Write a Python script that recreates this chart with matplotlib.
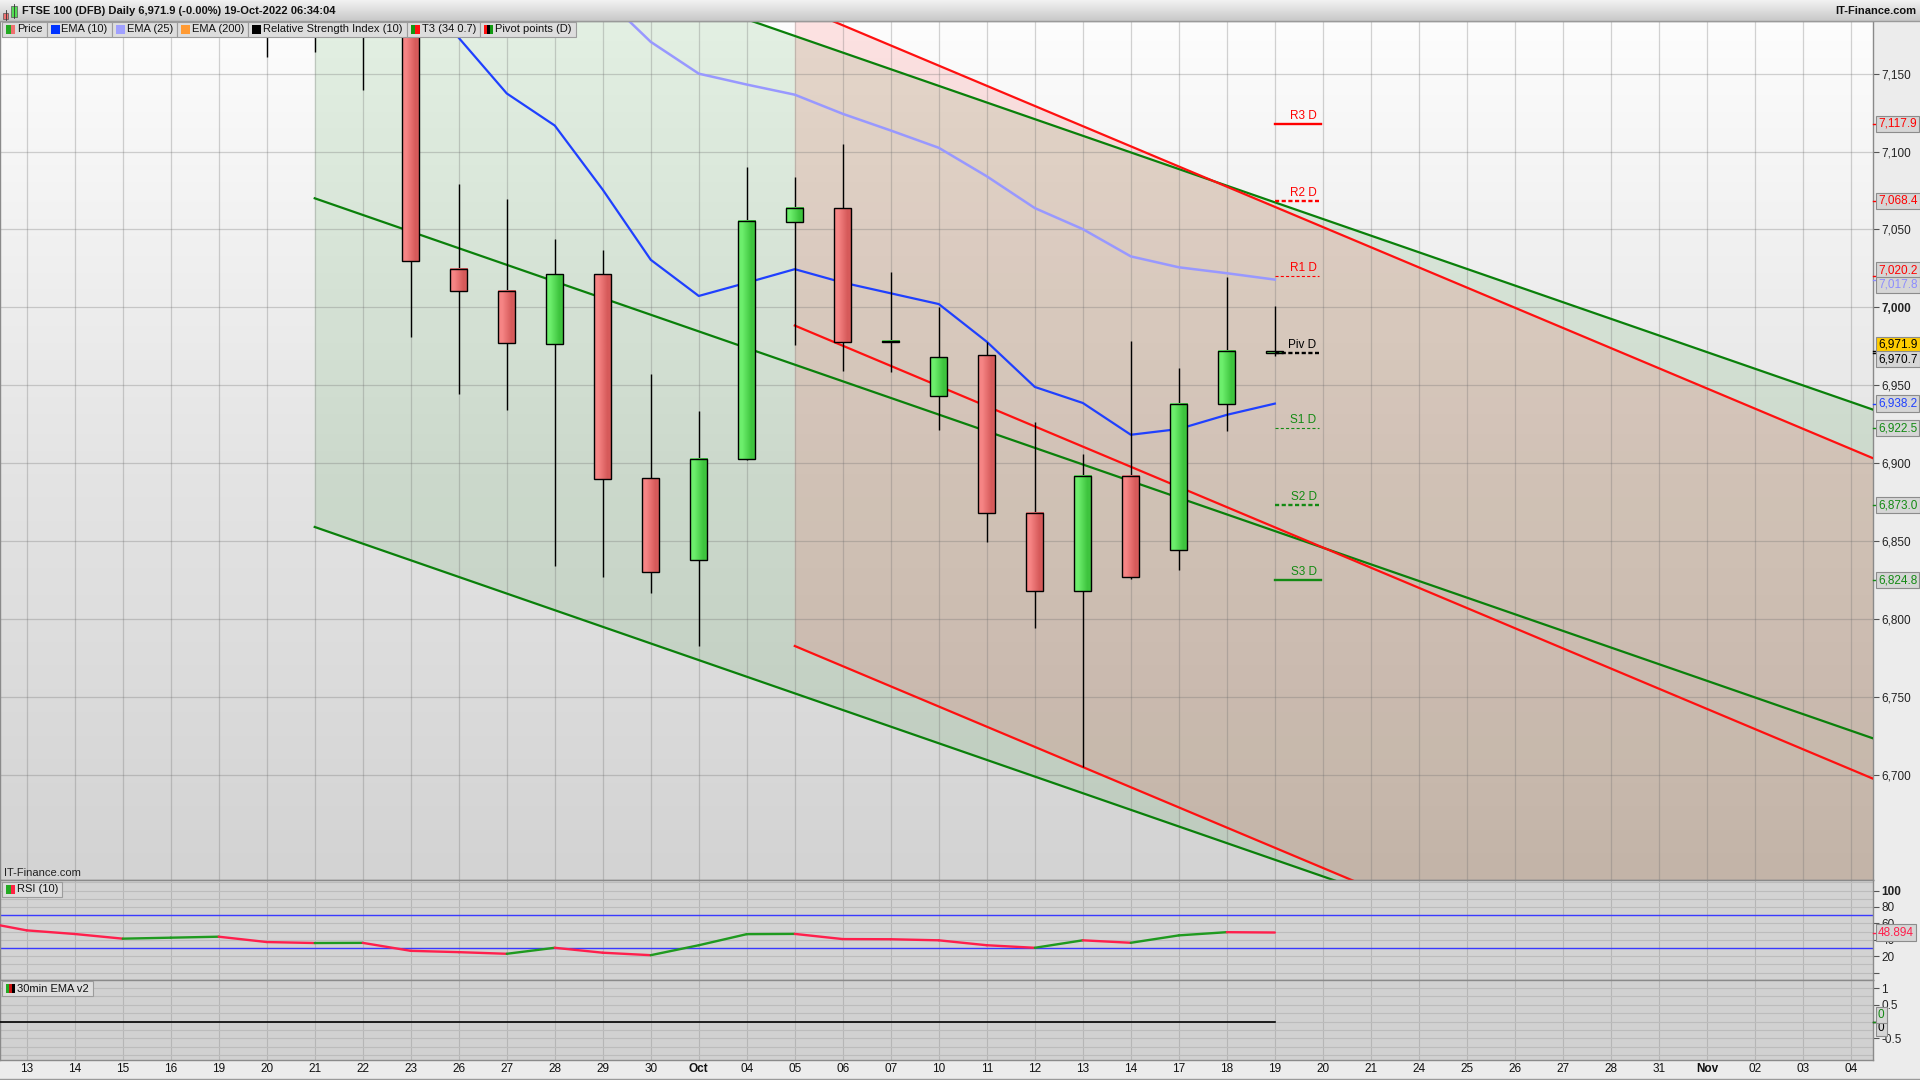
import matplotlib
matplotlib.use("Agg")
import matplotlib.pyplot as plt
import numpy as np
from matplotlib.colors import LinearSegmentedColormap
from matplotlib.patches import Rectangle
from matplotlib.lines import Line2D

plt.rcParams['font.family'] = ['Liberation Sans', 'DejaVu Sans']
plt.rcParams['lines.scale_dashes'] = False

W, H = 1920, 1080
FS = 8

# one slot per trading day, 13 Sep -> 04 Nov 2022
day_labels = ['13', '14', '15', '16', '19', '20', '21', '22', '23', '26', '27', '28', '29', '30',
              'Oct', '04', '05', '06', '07', '10', '11', '12', '13', '14', '17', '18', '19', '20',
              '21', '24', '25', '26', '27', '28', '31', 'Nov', '02', '03', '04']

# daily candles, Sep 20 .. Oct 19 (index into day_labels)
candle_day = list(range(5, 27))
c_open = [7230, 7200, 7238, 7196, 7024.5, 7010.3, 6976.4, 7021.2, 6890.3, 6837.6, 6902.6,
          7054.7, 7063.7, 6977.9, 6943.3, 6969.1, 6867.8, 6817.6, 6891.6, 6844.0, 6937.9, 6970.7]
c_high = [7255, 7262, 7245, 7210, 7079.4, 7069.7, 7044.0, 7036.9, 6957.0, 6933.5, 7089.9,
          7083.9, 7105.1, 7022.5, 7000.4, 6977.5, 6926.4, 6906.0, 6978.5, 6961.2, 7019.2, 7001.0]
c_low = [7160.7, 7164, 7139.5, 6981.0, 6944.6, 6934.3, 6834.1, 6827.0, 6816.7, 6782.6, 6902.0,
         6975.7, 6959.2, 6958.6, 6921.0, 6849.6, 6794.2, 6704.7, 6825.3, 6831.3, 6920.8, 6968.5]
c_close = [7200, 7238, 7196, 7029.6, 7010.3, 6976.8, 7021.2, 6889.7, 6830.3, 6902.6, 7055.4,
           7063.7, 6977.9, 6977.9, 6968.2, 6867.8, 6817.6, 6891.6, 6826.6, 6937.9, 6972.0, 6971.9]

ema10 = [7290, 7268, 7248, 7215, 7173, 7137.3, 7116.7, 7075.5, 7030.5, 7007.3, 7015.8,
         7024.5, 7015.9, 7009.0, 7002.1, 6977.9, 6948.9, 6938.6, 6918.2, 6921.9, 6931.0, 6938.2]
ema25 = [7330, 7315, 7298, 7275, 7255, 7240, 7222, 7200, 7170.4, 7150.0, 7143.0,
         7136.5, 7124.2, 7113.5, 7102.4, 7084.1, 7063.7, 7050.2, 7032.7, 7025.7, 7021.9, 7017.8]

# RSI(10), Sep 12 .. Oct 19
rsi_day = list(range(-1, 27))
rsi_vals = [62.5, 51.5, 47.1, 41.4, 42.6, 43.8, 37.3, 36.1, 36.3, 26.6, 25.0, 23.0, 30.3, 24.3,
            21.3, 33.4, 46.9, 47.2, 40.9, 40.7, 39.4, 33.4, 30.3, 39.4, 36.4, 45.4, 49.3, 48.894]

# 30min EMA v2 panel: flat line at zero up to the last bar
ema30_span = (-1, 26)
ema30_level = 0.0

pivot_names = ['R3 D', 'R2 D', 'R1 D', 'Piv D', 'S1 D', 'S2 D', 'S3 D']
pivot_vals = [7117.9, 7068.4, 7020.2, 6970.7, 6922.5, 6873.0, 6824.8]
pivot_colors = ['#ff0000', '#ff0000', '#ff0000', 'black', '#138a13', '#138a13', '#138a13']
pivot_style = ['solid', 'thick', 'thin', 'thick', 'thin', 'thick', 'solid']

# regression channels: start day, centre at start, slope per day, half width
green_chan = (6, 7070.0, -10.68, 211.0)
red_chan = (16, 6988.3, -12.95, 205.7)

last_price = 6971.9

price_ticks = [6700, 6750, 6800, 6850, 6900, 6950, 7000, 7050, 7100, 7150]

XL = (-0.556, 38.46)
YL = (6632.4, 7183.8)


def fy(py):
    return 1 - py / H


fig = plt.figure(figsize=(W / 100, H / 100), dpi=100, facecolor='#ececec')

ax = fig.add_axes([0, fy(880), 1873 / W, 859 / H])
ax_rsi = fig.add_axes([0, fy(980), 1873 / W, 100 / H])
ax_ema = fig.add_axes([0, fy(1060), 1873 / W, 80 / H])

# ---- main price panel
bg = LinearSegmentedColormap.from_list('bg', ['#d3d3d3', '#e5e5e5', '#fdfdfd'])
ax.imshow(np.linspace(0, 1, 256).reshape(-1, 1), extent=[XL[0], XL[1], YL[0], YL[1]],
          origin='lower', cmap=bg, aspect='auto', zorder=0)

for chan, col, alpha in [(green_chan, '#008000', 0.10), (red_chan, '#ff0000', 0.105)]:
    d0, mid0, slope, half = chan
    xs = np.array([d0, XL[1] + 1])
    mid = mid0 + slope * (xs - d0)
    ax.fill_between(xs, mid - half, mid + half, color=col, alpha=alpha, lw=0, zorder=1)

for i in range(len(day_labels)):
    ax.axvline(i, color='#6e6e6e', alpha=0.3, lw=0.9, zorder=2)
for p in price_ticks:
    ax.axhline(p, color='#6e6e6e', alpha=0.3, lw=0.9, zorder=2)

for chan, col in [(green_chan, '#0a800a'), (red_chan, '#ff1010')]:
    d0, mid0, slope, half = chan
    xs = np.array([d0, XL[1] + 1])
    mid = mid0 + slope * (xs - d0)
    for off in (-half, 0, half):
        ax.plot(xs, mid + off, color=col, lw=1.6, zorder=4)

ax.plot(candle_day, ema25, color='#9898ff', lw=1.8, zorder=4.5)
ax.plot(candle_day, ema10, color='#1f40ff', lw=1.6, zorder=4.6)

red_cm = LinearSegmentedColormap.from_list('r', ['#f68484', '#d65a5a'])
green_cm = LinearSegmentedColormap.from_list('g', ['#6cee6c', '#3ec43e'])
bw = 0.36
ax.vlines(candle_day, c_low, c_high, colors='black', lw=1.0, zorder=5)
for d, o, c in zip(candle_day, c_open, c_close):
    b, t = min(o, c), max(o, c)
    if t - b < 0.8:
        t = b + 0.8
    cm = green_cm if c >= o else red_cm
    ax.imshow([[0, 1]], extent=[d - bw / 2, d + bw / 2, b, t], cmap=cm, aspect='auto',
              interpolation='bilinear', zorder=6)
    ax.add_patch(Rectangle((d - bw / 2, b), bw, t - b, fill=False, ec='black', lw=1.0, zorder=7))

for name, v, col, st in zip(pivot_names, pivot_vals, pivot_colors, pivot_style):
    if st == 'solid':
        ax.plot([26, 26.97], [v, v], color=col, lw=1.7, zorder=8)
    elif st == 'thick':
        ax.plot([26, 26.91], [v, v], color=col, lw=1.7, dashes=(3.0, 1.8), zorder=8)
    else:
        ax.plot([26, 26.91], [v, v], color=col, lw=0.8, dashes=(2.2, 1.6), zorder=8)
    ax.annotate(name, xy=(26.87, v), xytext=(0, 1.5), textcoords='offset points',
                ha='right', va='bottom', fontsize=FS + 0.5, color=col, zorder=9)

ax.set_xlim(*XL)
ax.set_ylim(*YL)
ax.set_xticks([])
ax.yaxis.tick_right()
ax.set_yticks(price_ticks)
ax.set_yticklabels([f'{p:,}' for p in price_ticks])
for lab in ax.get_yticklabels():
    if lab.get_text() == '7,000':
        lab.set_fontweight('bold')
        lab.set_fontsize(FS + 1.5)
ax.tick_params(axis='y', direction='out', length=4, width=0.8, colors='#555555',
               labelcolor='#222222', labelsize=FS + 0.5, pad=2)
ax.text(0.002, 0.002, 'IT-Finance.com', transform=ax.transAxes, fontsize=FS, va='bottom',
        color='#222222', zorder=10)

# ---- RSI panel
ax_rsi.set_facecolor('#d3d3d3')
ax_rsi.set_xlim(*XL)
ax_rsi.set_ylim(-8.9, 112.8)
for i in range(len(day_labels)):
    ax_rsi.axvline(i, color='#b6b6b6', lw=0.8, zorder=1)
for g in range(0, 111, 10):
    ax_rsi.axhline(g, color='#bcbcbc', lw=0.8, zorder=1)
ax_rsi.axhline(70, color='#3a3aff', lw=1.0, zorder=2)
ax_rsi.axhline(30, color='#3a3aff', lw=1.0, zorder=2)
for k in range(len(rsi_vals) - 1):
    col = '#1f9a1f' if rsi_vals[k + 1] >= rsi_vals[k] else '#ff1f4c'
    ax_rsi.plot(rsi_day[k:k + 2], rsi_vals[k:k + 2], color=col, lw=1.7,
                solid_capstyle='round', zorder=3)
ax_rsi.set_xticks([])
ax_rsi.yaxis.tick_right()
ax_rsi.set_yticks([0, 20, 40, 60, 80, 100])
ax_rsi.set_yticklabels(['', '20', '40', '60', '80', '100'])
ax_rsi.get_yticklabels()[-1].set_fontweight('bold')
ax_rsi.get_yticklabels()[-1].set_fontsize(FS + 1.5)
ax_rsi.tick_params(axis='y', direction='out', length=4, width=0.8, colors='#555555',
                   labelcolor='#222222', labelsize=FS + 0.5, pad=2)

# ---- 30min EMA panel
ax_ema.set_facecolor('#d1d1d1')
ax_ema.set_xlim(*XL)
ax_ema.set_ylim(-1.15, 1.24)
for i in range(len(day_labels)):
    ax_ema.axvline(i, color='#b6b6b6', lw=0.8, zorder=1)
for g in np.arange(-1, 1.01, 0.25):
    ax_ema.axhline(g, color='#bcbcbc', lw=0.8, zorder=1)
ax_ema.plot([XL[0], ema30_span[1]], [ema30_level, ema30_level], color='black', lw=1.2, zorder=3)
ax_ema.set_xticks([])
ax_ema.yaxis.tick_right()
ax_ema.set_yticks([-0.5, 0, 0.5, 1])
ax_ema.set_yticklabels(['-0.5', '', '0.5', '1'])
ax_ema.tick_params(axis='y', direction='out', length=4, width=0.8, colors='#555555',
                   labelcolor='#222222', labelsize=FS + 0.5, pad=2)

for a in (ax, ax_rsi, ax_ema):
    for s in a.spines.values():
        s.set_color('#8a8a8a')
        s.set_linewidth(1.0)

# ---- value boxes on the right axis


def value_boxes(a, items, gap=14.5):
    ys = [a.transData.transform((0, v))[1] for v, _, _, _ in items]
    adj = list(ys)
    order = sorted(range(len(adj)), key=lambda k: adj[k])
    for _ in range(60):
        for m in range(len(order) - 1):
            lo, hi = order[m], order[m + 1]
            dif = adj[hi] - adj[lo]
            if dif < gap:
                push = (gap - dif) / 2
                adj[hi] += push
                adj[lo] -= push
    for (v, txt, tc, fc), y0, y1 in zip(items, ys, adj):
        fig.add_artist(Line2D([1873 / W, 1877 / W], [y0 / H, y0 / H], color=tc, lw=1.0,
                              transform=fig.transFigure))
        fig.text(1878 / W, y1 / H, txt, ha='left', va='center', fontsize=FS + 0.5, color=tc,
                 zorder=8, bbox=dict(boxstyle='square,pad=0.18', fc=fc, ec='#8c8c8c', lw=0.8))


grey = '#d6d6d6'
main_boxes = [(7117.9, '7,117.9', '#ff0000', grey), (7068.4, '7,068.4', '#ff0000', grey),
              (7020.2, '7,020.2', '#ff0000', grey), (7017.8, '7,017.8', '#8c8cff', grey),
              (last_price, f'{last_price:,.1f}', 'black', '#ffcc00'),
              (6970.7, '6,970.7', 'black', grey), (6938.2, '6,938.2', '#1f40ff', grey),
              (6922.5, '6,922.5', '#138a13', grey), (6873.0, '6,873.0', '#138a13', grey),
              (6824.8, '6,824.8', '#138a13', grey)]
value_boxes(ax, main_boxes)
value_boxes(ax_rsi, [(rsi_vals[-1], f'{rsi_vals[-1]:.3f}', '#ff1f4c', grey)])
value_boxes(ax_ema, [(ema30_level, '0', 'black', grey), (ema30_level, '0', '#138a13', grey)],
            gap=13.5)

# ---- date labels
for i, lab in enumerate(day_labels):
    xp = ax.transData.transform((i, YL[0]))[0]
    fig.text(xp / W, fy(1069), lab, ha='center', va='center', fontsize=FS + 0.5,
             fontweight='bold' if lab in ('Oct', 'Nov') else 'normal', color='#111111')
fig.add_artist(Line2D([0, 1], [fy(1078.5), fy(1078.5)], color='#9a9a9a', lw=1.0,
                      transform=fig.transFigure))

# ---- header bar
hax = fig.add_axes([0, fy(21), 1, 21 / H])
hbg = LinearSegmentedColormap.from_list('h', ['#c8c8c8', '#f2f2f2'])
hax.imshow(np.linspace(0, 1, 64).reshape(-1, 1), origin='lower', cmap=hbg, aspect='auto',
           extent=[0, 1, 0, 1])
hax.set_xlim(0, 1)
hax.set_ylim(0, 1)
hax.axis('off')
fig.add_artist(Line2D([0, 1], [fy(21), fy(21)], color='#9a9a9a', lw=1.0, transform=fig.transFigure))


def px_rect(x, y, w, h, **kw):
    fig.add_artist(Rectangle((x / W, fy(y + h)), w / W, h / H, transform=fig.transFigure, **kw))


# little candle icon
fig.add_artist(Line2D([5.5 / W, 5.5 / W], [fy(20), fy(10)], color='#333', lw=0.6,
                      transform=fig.transFigure))
px_rect(3, 13, 5, 6, fc='#f07070', ec='#555', lw=0.5)
fig.add_artist(Line2D([14 / W, 14 / W], [fy(18), fy(4)], color='#333', lw=0.6,
                      transform=fig.transFigure))
px_rect(11, 6, 6, 11, fc='#55dd55', ec='#555', lw=0.5)

fig.text(22 / W, fy(11), 'FTSE 100 (DFB) Daily 6,971.9 (-0.00%) 19-Oct-2022 06:34:04',
         ha='left', va='center', fontsize=FS, fontweight='bold', color='#111111')
fig.text(1916 / W, fy(11), 'IT-Finance.com', ha='right', va='center', fontsize=FS,
         fontweight='bold', color='#111111')

# ---- legend chips
renderer = fig.canvas.get_renderer()


def chip(x, y, label, colors, h=15):
    t = fig.text((x + 15) / W, fy(y + h / 2), label, ha='left', va='center', fontsize=FS,
                 color='#111111', zorder=6)
    tw = t.get_window_extent(renderer).width
    w = 15 + tw + 4
    px_rect(x, y, w, h, fc='#dddddd', ec='#9c9c9c', lw=0.8, zorder=5)
    n = len(colors)
    for k, c in enumerate(colors):
        px_rect(x + 4 + k * 9 / n, y + 3, 9 / n, h - 6, fc=c, ec='none', lw=0, zorder=6)
    return x + w


legend_items = [('Price', ['#22aa22', '#f07070']), ('EMA (10)', ['#0033ff']),
                ('EMA (25)', ['#a0a0ff']), ('EMA (200)', ['#ff9a33']),
                ('Relative Strength Index (10)', ['black']), ('T3 (34 0.7)', ['#119911', '#ff1111']),
                ('Pivot points (D)', ['#ff1111', 'black', '#119911'])]
xx = 2
for lab, cols in legend_items:
    xx = chip(xx, 22, lab, cols)

chip(2, 882, 'RSI (10)', ['#22aa22', '#ff2244'])
chip(2, 981, '30min EMA v2', ['#22aa22', '#cc1111', 'black'])

fig.savefig('out.png', dpi=100, facecolor=fig.get_facecolor())
